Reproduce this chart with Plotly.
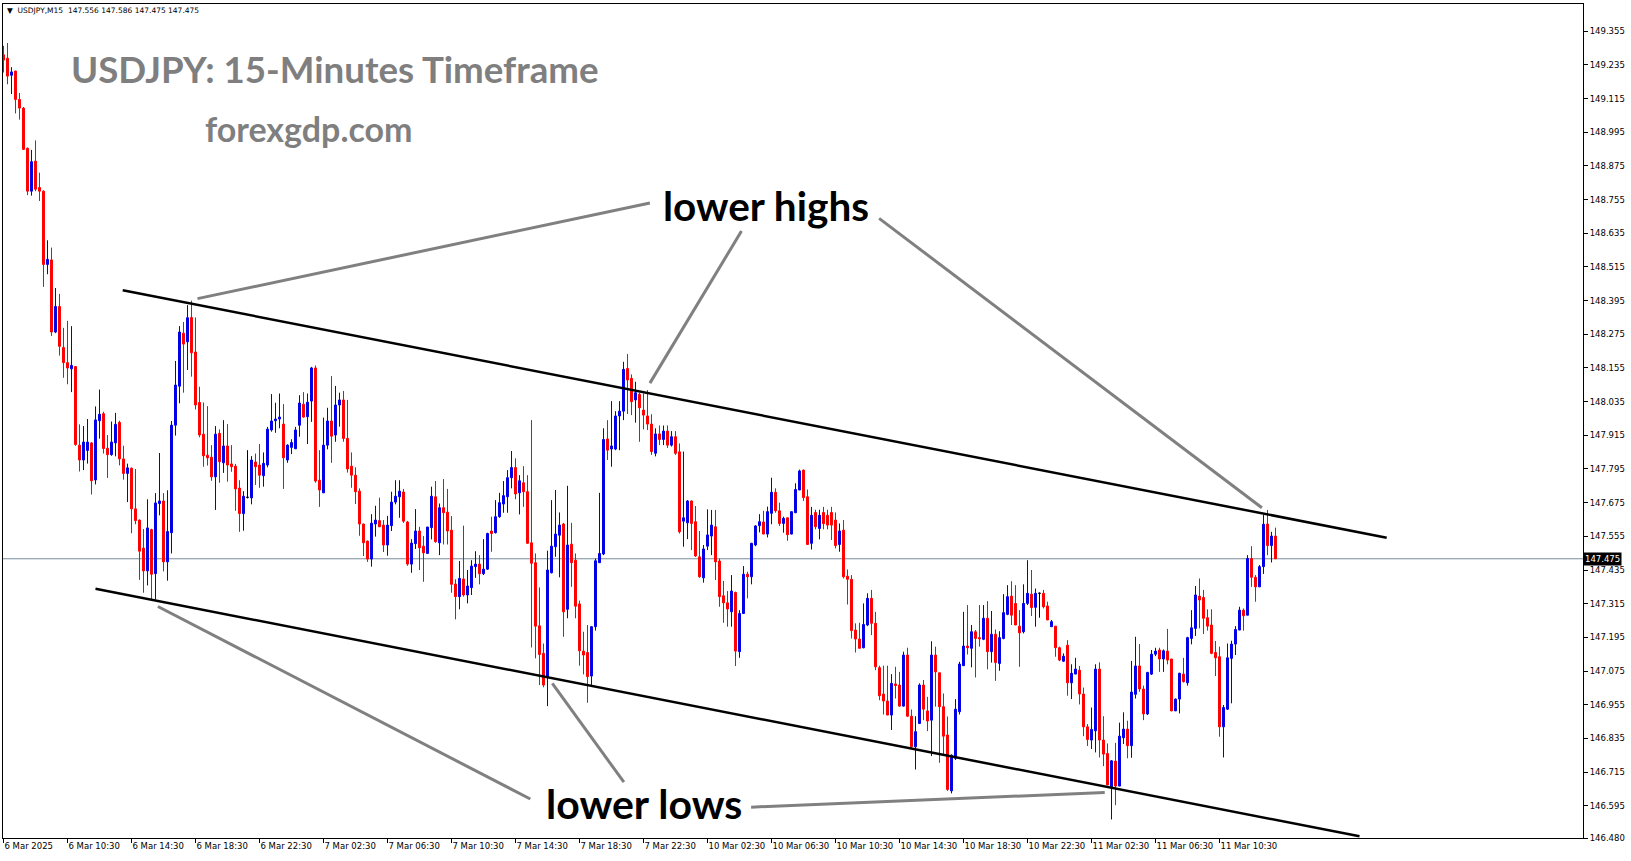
import plotly.graph_objects as go

# ---- data (USDJPY M15) ----
opens = [149.271,149.259,149.198,149.213,149.112,149.081,148.938,148.785,148.892,148.798,
148.785,148.524,148.540,148.283,148.374,148.228,148.174,148.152,148.160,147.880,
147.827,147.861,147.888,147.756,147.967,147.992,147.869,147.846,147.888,147.961,
147.831,147.779,147.798,147.653,147.613,147.513,147.432,147.579,147.422,147.672,
147.681,147.464,147.568,147.951,148.090,148.279,148.248,148.335,148.212,148.032,
147.919,147.844,147.837,147.767,147.922,147.817,147.877,147.813,147.805,147.727,
147.636,147.694,147.692,147.820,147.809,147.771,147.809,147.934,147.967,147.973,
147.955,147.827,147.872,147.867,147.951,148.026,147.981,148.037,148.155,147.755,
147.710,147.880,147.966,147.916,148.023,148.041,147.904,147.805,147.773,147.716,
147.599,147.538,147.474,147.599,147.611,147.595,147.524,147.593,147.677,147.696,
147.713,147.606,147.456,147.529,147.574,147.520,147.494,147.586,147.696,147.532,
147.657,147.641,147.577,147.385,147.340,147.403,147.346,147.372,147.447,147.456,
147.422,147.438,147.574,147.568,147.625,147.670,147.696,147.764,147.800,147.710,
147.746,147.714,147.532,147.461,147.236,147.138,147.055,147.425,147.518,147.559,
147.599,147.295,147.527,147.470,147.314,147.146,147.141,147.057,147.233,147.461,
147.492,147.902,147.866,147.866,147.984,148.001,148.153,148.118,148.041,148.061,
148.005,147.984,147.955,147.851,147.920,147.900,147.930,147.880,147.910,147.856,
147.609,147.603,147.681,147.607,147.482,147.407,147.520,147.556,147.589,147.467,
147.343,147.318,147.286,147.355,147.144,147.280,147.420,147.411,147.524,147.593,
147.606,147.563,147.637,147.712,147.646,147.601,147.621,147.563,147.639,147.720,
147.791,147.696,147.530,147.640,147.583,147.640,147.630,147.640,147.613,147.526,
147.577,147.413,147.402,147.221,147.189,147.158,147.239,147.334,147.245,147.087,
146.993,146.968,146.918,147.029,147.025,146.950,147.132,146.914,146.805,146.888,
147.025,146.933,146.900,147.132,147.069,146.948,146.847,146.648,146.764,146.930,
147.094,147.164,147.156,147.215,147.194,147.188,147.263,147.144,147.206,147.102,
147.191,147.277,147.342,147.316,147.235,147.215,147.316,147.349,147.302,147.352,
147.352,147.307,147.233,147.235,147.158,147.110,147.167,147.033,147.064,147.078,
146.993,146.876,146.829,146.862,147.082,146.829,146.781,146.660,146.754,146.665,
146.837,146.868,146.809,146.992,147.093,147.011,146.922,147.064,147.135,147.150,
147.118,147.146,147.118,146.933,146.975,147.064,147.033,147.191,147.227,147.342,
147.337,147.265,147.239,147.141,147.126,146.876,146.939,147.120,147.171,147.221,
147.292,147.274,147.476,147.409,147.375,147.447,147.599,147.522,147.556]

highs = [149.303,149.313,149.227,149.214,149.135,149.085,148.940,148.932,148.966,148.851,
148.788,148.610,148.584,148.440,148.419,148.298,148.323,148.304,148.162,147.954,
147.948,147.973,147.890,148.018,148.078,147.999,147.916,147.964,147.995,147.967,
147.878,147.814,147.800,147.795,147.615,147.581,147.687,147.582,147.709,147.852,
147.709,147.719,147.966,148.180,148.304,148.319,148.379,148.395,148.335,148.088,
148.032,148.019,147.880,147.948,147.936,147.969,147.955,147.880,147.813,147.755,
147.716,147.862,147.841,147.850,147.884,147.854,147.945,148.062,148.031,148.064,
148.026,147.883,147.901,147.945,148.058,148.069,148.064,148.159,148.164,147.862,
147.978,148.013,148.126,148.091,148.067,148.073,148.041,147.854,147.801,147.726,
147.600,147.540,147.634,147.664,147.693,147.613,147.628,147.714,147.755,147.755,
147.724,147.610,147.545,147.652,147.589,147.556,147.589,147.732,147.752,147.672,
147.759,147.724,147.627,147.402,147.467,147.593,147.435,147.470,147.502,147.488,
147.545,147.568,147.625,147.684,147.710,147.752,147.791,147.859,147.833,147.773,
147.805,147.773,147.969,147.494,147.373,147.173,147.504,147.684,147.720,147.640,
147.603,147.735,147.603,147.494,147.326,147.215,147.239,147.235,147.476,147.710,
147.940,147.969,148.037,148.001,148.037,148.177,148.205,148.132,148.106,148.067,
148.064,148.076,147.990,147.940,147.950,147.950,147.950,147.930,147.930,147.886,
147.857,147.684,147.683,147.663,147.574,147.524,147.651,147.649,147.649,147.476,
147.396,147.360,147.417,147.358,147.292,147.449,147.429,147.532,147.595,147.634,
147.646,147.661,147.764,147.726,147.675,147.625,147.621,147.643,147.744,147.793,
147.793,147.722,147.660,147.650,147.650,147.660,147.650,147.660,147.640,147.601,
147.613,147.437,147.417,147.245,147.247,147.316,147.352,147.364,147.286,147.094,
147.094,147.094,147.064,147.090,147.072,147.144,147.158,146.938,146.914,147.031,
147.043,146.983,147.181,147.162,147.069,146.995,146.913,146.778,146.975,147.108,
147.286,147.310,147.239,147.221,147.310,147.310,147.324,147.289,147.223,147.217,
147.349,147.381,147.395,147.381,147.292,147.384,147.470,147.435,147.369,147.355,
147.364,147.322,147.257,147.235,147.162,147.138,147.185,147.099,147.122,147.093,
147.016,146.886,146.945,147.099,147.106,146.914,146.817,146.758,146.819,146.891,
146.928,146.898,147.111,147.197,147.171,147.023,147.072,147.150,147.158,147.158,
147.152,147.225,147.118,146.977,147.069,147.122,147.197,147.292,147.378,147.405,
147.364,147.295,147.295,147.182,147.162,146.954,147.173,147.183,147.235,147.304,
147.298,147.488,147.520,147.417,147.453,147.631,147.649,147.571,147.586]

lows = [149.208,149.166,149.131,149.062,149.040,148.932,148.771,148.769,148.785,148.750,
148.444,148.489,148.269,148.279,148.199,148.120,148.097,148.069,147.878,147.786,
147.791,147.814,147.704,147.740,147.903,147.850,147.763,147.842,147.840,147.808,
147.757,147.677,147.566,147.598,147.400,147.354,147.380,147.330,147.330,147.630,
147.430,147.397,147.494,147.914,148.029,148.067,148.148,148.124,148.007,147.908,
147.803,147.807,147.753,147.649,147.746,147.781,147.750,147.785,147.646,147.571,
147.575,147.690,147.669,147.738,147.728,147.732,147.801,147.928,147.924,147.940,
147.724,147.817,147.848,147.866,147.910,147.978,147.884,147.963,147.746,147.660,
147.710,147.865,147.817,147.892,147.946,147.892,147.782,147.728,147.670,147.557,
147.485,147.464,147.447,147.554,147.589,147.499,147.486,147.574,147.669,147.621,
147.603,147.450,147.425,147.510,147.435,147.393,147.492,147.544,147.532,147.488,
147.526,147.526,147.354,147.259,147.295,147.340,147.316,147.346,147.407,147.384,
147.417,147.435,147.500,147.565,147.621,147.639,147.639,147.726,147.687,147.633,
147.660,147.530,147.159,147.120,147.025,147.017,146.950,147.423,147.482,147.409,
147.197,147.263,147.375,147.263,147.094,147.063,146.962,147.021,147.219,147.461,
147.488,147.827,147.803,147.862,147.862,147.969,147.991,147.987,147.960,147.892,
147.936,147.934,147.845,147.840,147.880,147.880,147.870,147.875,147.845,147.565,
147.518,147.545,147.506,147.482,147.407,147.390,147.506,147.488,147.399,147.304,
147.247,147.233,147.233,147.093,147.122,147.280,147.334,147.384,147.520,147.569,
147.563,147.551,147.598,147.639,147.592,147.568,147.539,147.562,147.639,147.720,
147.681,147.524,147.508,147.580,147.544,147.580,147.580,147.542,147.512,147.500,
147.405,147.312,147.191,147.141,147.156,147.156,147.235,147.203,147.078,146.971,
146.920,146.918,146.865,146.977,146.948,146.948,146.912,146.799,146.724,146.886,
146.900,146.861,146.772,146.948,146.748,146.775,146.648,146.639,146.758,146.920,
147.094,147.134,147.088,147.052,147.162,147.185,147.081,147.105,147.040,147.076,
147.188,147.274,147.239,147.239,147.090,147.209,147.310,147.271,147.233,147.265,
147.298,147.257,147.233,147.126,147.110,147.108,146.987,146.975,147.064,146.956,
146.843,146.808,146.797,146.785,146.767,146.736,146.669,146.546,146.597,146.665,
146.815,146.764,146.766,146.977,147.001,146.900,146.918,147.061,147.128,147.072,
147.072,147.099,146.932,146.933,146.924,147.034,147.023,147.170,147.200,147.227,
147.207,147.219,147.135,147.057,146.841,146.767,146.936,146.960,147.132,147.221,
147.219,147.274,147.375,147.322,147.375,147.421,147.488,147.462,147.475]

closes = [149.252,149.195,149.210,149.112,149.081,148.934,148.785,148.890,148.792,148.785,
148.524,148.542,148.283,148.374,148.232,148.174,148.155,148.164,147.882,147.827,
147.891,147.891,147.753,147.970,147.990,147.868,147.846,147.891,147.954,147.831,
147.779,147.799,147.653,147.611,147.502,147.432,147.585,147.420,147.674,147.681,
147.464,147.572,147.951,148.094,148.283,148.240,148.334,148.209,148.023,147.916,
147.842,147.835,147.767,147.919,147.821,147.877,147.809,147.803,147.724,147.636,
147.698,147.694,147.827,147.803,147.773,147.815,147.937,147.966,147.973,147.980,
147.835,147.880,147.889,147.934,148.030,147.980,148.033,148.155,147.752,147.720,
147.880,147.966,147.912,148.023,148.041,147.904,147.795,147.773,147.714,147.599,
147.532,147.474,147.602,147.613,147.589,147.524,147.595,147.677,147.698,147.716,
147.609,147.456,147.531,147.574,147.514,147.496,147.588,147.698,147.536,147.657,
147.639,147.574,147.384,147.340,147.405,147.346,147.378,147.449,147.456,147.422,
147.438,147.565,147.565,147.625,147.675,147.700,147.764,147.800,147.706,147.753,
147.714,147.530,147.459,147.235,147.134,147.025,147.435,147.520,147.563,147.595,
147.286,147.524,147.461,147.306,147.147,147.132,147.055,147.233,147.468,147.494,
147.900,147.862,147.877,147.984,148.001,148.150,148.112,148.035,148.067,148.013,
147.987,147.955,147.857,147.920,147.900,147.930,147.880,147.910,147.851,147.571,
147.621,147.681,147.601,147.485,147.411,147.510,147.560,147.595,147.464,147.340,
147.318,147.296,147.360,147.146,147.280,147.420,147.411,147.530,147.592,147.607,
147.563,147.643,147.712,147.646,147.601,147.619,147.561,147.643,147.722,147.788,
147.693,147.526,147.630,147.589,147.630,147.600,147.595,147.595,147.522,147.574,
147.411,147.402,147.219,147.189,147.156,147.241,147.334,147.245,147.090,146.987,
146.968,146.918,147.031,147.023,146.950,147.132,146.914,146.805,146.859,147.025,
146.939,146.897,147.132,147.072,146.948,146.843,146.653,146.775,146.939,147.100,
147.164,147.158,147.215,147.191,147.190,147.263,147.144,147.206,147.105,147.194,
147.283,147.340,147.274,147.239,147.211,147.316,147.352,147.301,147.352,147.352,
147.304,147.257,147.251,147.158,147.114,147.128,147.033,147.067,147.082,146.993,
146.876,146.831,146.867,147.082,146.829,146.779,146.669,146.755,146.665,146.843,
146.868,146.809,147.000,147.093,147.011,146.922,147.070,147.135,147.146,147.118,
147.147,147.114,146.933,146.975,147.067,147.037,147.194,147.229,147.346,147.328,
147.263,147.235,147.138,147.122,146.876,146.945,147.122,147.171,147.223,147.292,
147.272,147.476,147.409,147.375,147.447,147.598,147.522,147.556,147.475]

time_labels = ["6 Mar 2025", "6 Mar 10:30", "6 Mar 14:30", "6 Mar 18:30", "6 Mar 22:30",
               "7 Mar 02:30", "7 Mar 06:30", "7 Mar 10:30", "7 Mar 14:30", "7 Mar 18:30",
               "7 Mar 22:30", "10 Mar 02:30", "10 Mar 06:30", "10 Mar 10:30", "10 Mar 14:30",
               "10 Mar 18:30", "10 Mar 22:30", "11 Mar 02:30", "11 Mar 06:30", "11 Mar 10:30"]
bars_per_label = 16
price_ticks = [146.480, 146.595, 146.715, 146.835, 146.955, 147.075, 147.195, 147.315, 147.435,
               147.555, 147.675, 147.795, 147.915, 148.035, 148.155, 148.275, 148.395, 148.515,
               148.635, 148.755, 148.875, 148.995, 149.115, 149.235, 149.355]
last_price = 147.475

# trend channel (bar index, price)
upper_trend = [(29.8, 148.432), (345.8, 147.550)]
lower_trend = [(23.0, 147.368), (339.0, 146.486)]
# grey pointer lines (bar index, price)
pointers = [
    [(48.5, 148.402), (161.6, 148.743)],
    [(161.6, 148.101), (184.5, 148.643)],
    [(218.9, 148.688), (314.6, 147.657)],
    [(38.6, 147.305), (131.7, 146.619)],
    [(137.2, 147.031), (155.1, 146.679)],
    [(186.9, 146.590), (275.3, 146.642)],
]

n = len(closes)
idx = list(range(n))
header = "USDJPY,M15  147.556 147.586 147.475 147.475"

BLUE = "#0000e6"
RED = "#ff0000"

normal = [i for i in idx if closes[i] != opens[i]]
doji = [i for i in idx if closes[i] == opens[i]]

fig = go.Figure()
fig.add_trace(go.Candlestick(
    x=[i for i in normal],
    open=[opens[i] for i in normal], high=[highs[i] for i in normal],
    low=[lows[i] for i in normal], close=[closes[i] for i in normal],
    increasing=dict(line=dict(color=BLUE, width=1), fillcolor=BLUE),
    decreasing=dict(line=dict(color=RED, width=1), fillcolor=RED),
    whiskerwidth=0, showlegend=False, hoverinfo="skip"))
fig.add_trace(go.Candlestick(
    x=doji,
    open=[opens[i] for i in doji], high=[highs[i] for i in doji],
    low=[lows[i] for i in doji], close=[closes[i] for i in doji],
    increasing=dict(line=dict(color="black", width=1), fillcolor="black"),
    decreasing=dict(line=dict(color="black", width=1), fillcolor="black"),
    whiskerwidth=0, showlegend=False, hoverinfo="skip"))

shapes = []
# current price line
shapes.append(dict(type="line", xref="paper", x0=0, x1=1, yref="y", y0=last_price, y1=last_price,
                   line=dict(color="#7a8a99", width=1), layer="below"))
for (a, b) in [upper_trend, lower_trend]:
    shapes.append(dict(type="line", xref="x", yref="y", x0=a[0], y0=a[1], x1=b[0], y1=b[1],
                       line=dict(color="black", width=2.5)))
for (a, b) in pointers:
    shapes.append(dict(type="line", xref="x", yref="y", x0=a[0], y0=a[1], x1=b[0], y1=b[1],
                       line=dict(color="#808080", width=3)))

annotations = [
    dict(text="<b>USDJPY: 15-Minutes Timeframe</b>", xref="paper", yref="paper", x=0.2104, y=0.9224,
         xanchor="center", yanchor="middle", showarrow=False,
         font=dict(family="Lato", size=36.7, color="#7f7f7f")),
    dict(text="<b>forexgdp.com</b>", xref="paper", yref="paper", x=0.1934, y=0.8513,
         xanchor="center", yanchor="middle", showarrow=False,
         font=dict(family="Lato", size=34, color="#7f7f7f")),
    dict(text="<b>lower highs</b>", xref="paper", yref="paper", x=0.4826, y=0.7578,
         xanchor="center", yanchor="middle", showarrow=False,
         font=dict(family="Lato", size=40.5, color="black")),
    dict(text="<b>lower lows</b>", xref="paper", yref="paper", x=0.4056, y=0.0408,
         xanchor="center", yanchor="middle", showarrow=False,
         font=dict(family="Lato", size=41, color="black")),
    dict(text="▼  " + header, xref="paper", yref="paper", x=0.0015, y=0.9928,
         xanchor="left", yanchor="middle", showarrow=False,
         font=dict(family="DejaVu Sans", size=7.5, color="black")),
    dict(text="%.3f" % last_price, xref="paper", yref="y", x=1.0, y=last_price,
         xanchor="left", yanchor="middle", showarrow=False, bgcolor="black", borderpad=1,
         font=dict(family="DejaVu Sans", size=8.5, color="white")),
]

fig.update_layout(
    width=1631, height=861,
    margin=dict(l=3, r=48, t=4, b=23),
    paper_bgcolor="white", plot_bgcolor="white",
    shapes=shapes, annotations=annotations,
    showlegend=False, hovermode=False,
    xaxis=dict(range=[-0.125, 394.875], rangeslider=dict(visible=False),
               tickvals=[k * bars_per_label for k in range(len(time_labels))],
               ticktext=time_labels, ticks="outside", ticklen=4, tickcolor="black",
               ticklabelposition="outside right", tickangle=0, automargin=False,
               showgrid=False, zeroline=False, showline=True, linecolor="black", linewidth=1,
               mirror=True, tickfont=dict(family="DejaVu Sans", size=8.5, color="black")),
    yaxis=dict(range=[146.480, 149.452], side="right", automargin=False,
               tickvals=price_ticks, ticktext=["%.3f" % v for v in price_ticks],
               ticks="outside", ticklen=4, tickcolor="black",
               showgrid=False, zeroline=False, showline=True, linecolor="black", linewidth=1,
               mirror=True, tickfont=dict(family="DejaVu Sans", size=8.5, color="black")),
)

fig.write_html("out.html", config={"displayModeBar": False},
               post_script="document.body.style.margin='0';document.body.style.overflow='hidden';")
